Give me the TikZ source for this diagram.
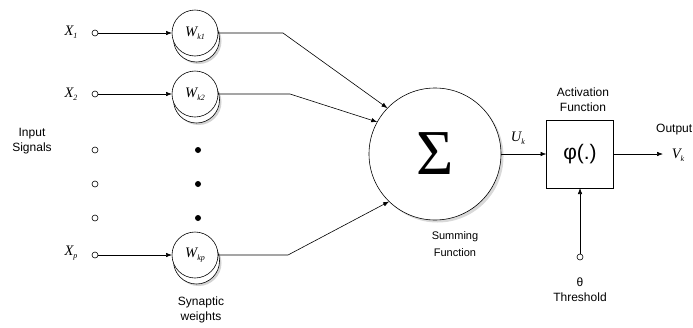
\documentclass[tikz,border=0pt]{standalone}
\usepackage{fontspec}
\setmainfont{Liberation Sans}
\newfontfamily\tms{Liberation Serif}
\usetikzlibrary{arrows.meta,shadows}
\newcommand\vsym[2]{{\fontsize{14.5}{14.5}\selectfont\tms\itshape #1}\raisebox{-0.3em}{\fontsize{8}{8}\selectfont\tms\itshape #2}}
\begin{document}
\begin{tikzpicture}[x=1pt,y=-1pt,line width=0.6pt,
  port/.style={circle,draw,fill=white,inner sep=0pt,minimum size=6pt},
  dotb/.style={circle,fill=black,inner sep=0pt,minimum size=6pt},
  wt/.style={circle,draw,fill=white,inner sep=0pt,outer sep=0pt,minimum size=46pt},
  wtback/.style={circle,draw,fill=white,inner sep=0pt,minimum size=46pt,
    drop shadow={opacity=0.35,shadow xshift=2pt,shadow yshift=-2pt}},
  arr/.style={-{Latex[length=6pt,width=4.5pt]}},
  lbl/.style={font=\fontsize{12}{15}\selectfont,align=center}]
\useasboundingbox (0,0) rectangle (693,327);

% input ports
\node[port] (x1) at (95,33) {};
\node[port] (x2) at (95,94) {};
\node[port] (d1) at (95,150) {};
\node[port] (d2) at (95,184) {};
\node[port] (d3) at (95,218) {};
\node[port] (xp) at (95,255) {};
\node (lx1) at (71,32) {\vsym{X}{1}};
\node (lx2) at (71,94) {\vsym{X}{2}};
\node (lxp) at (71,253) {\vsym{X}{p}};
\node[lbl] (insig) at (32,141) {Input\\Signals};

% weights
\node[wtback] (w1b) at (196.5,39) {};
\node[wt] (w1) at (195,33) {\vsym{W}{k1}};
\node[wtback] (w2b) at (196.5,100) {};
\node[wt] (w2) at (195,94) {\vsym{W}{k2}};
\node[wtback] (wpb) at (196.5,261) {};
\node[wt] (wp) at (195,255) {\vsym{W}{kp}};
\node[dotb] (e1) at (198,150) {};
\node[dotb] (e2) at (198,184) {};
\node[dotb] (e3) at (198,218) {};
\node[lbl] (syn) at (201,310) {Synaptic\\weights};

% summing
\node[circle,draw,fill=white,inner sep=0pt,outer sep=0pt,minimum size=132pt,
  drop shadow={opacity=0.3,shadow xshift=2.5pt,shadow yshift=-2.5pt}] (sum) at (435,154)
  {\fontsize{64}{64}\selectfont\tms Σ};
\node[font=\fontsize{11}{17}\selectfont,align=center] (sumlbl) at (455,244) {Summing\\Function};

% activation
\node[draw,fill=white,inner sep=0pt,outer sep=0pt,minimum width=67pt,minimum height=68pt] (act) at (580,154)
  {\fontsize{21}{21}\selectfont φ(.)};
\node[lbl] (actlbl) at (583,99.5) {Activation\\Function};
\node (uk) at (518,138) {\vsym{U}{k}};

% output
\coordinate (out) at (663,154);
\node[lbl,anchor=east,inner sep=0.5pt] (outlbl) at (693,130) {Output};
\node (vk) at (678,155) {\vsym{V}{k}};

% threshold
\node[port] (th) at (580,257) {};
\node[lbl] (thlbl) at (580,290) {θ\\Threshold};

% connectors
\coordinate (b1) at (283,33);
\coordinate (b2) at (290,94);
\coordinate (bp) at (288,255);
\draw[arr] (x1) -- (w1);
\draw[arr] (x2) -- (w2);
\draw[arr] (xp) -- (wp);
\draw[arr] (w1.east) -- (b1) -- (sum.136);
\draw[arr] (w2.east) -- (b2) -- (sum.151);
\draw[arr] (wp.east) -- (bp) -- (sum.226);
\draw[arr] (sum.east) -- (act.west);
\draw[arr] (act.east) -- (out);
\draw[arr] (th) -- (act.south);
\end{tikzpicture}
\end{document}
